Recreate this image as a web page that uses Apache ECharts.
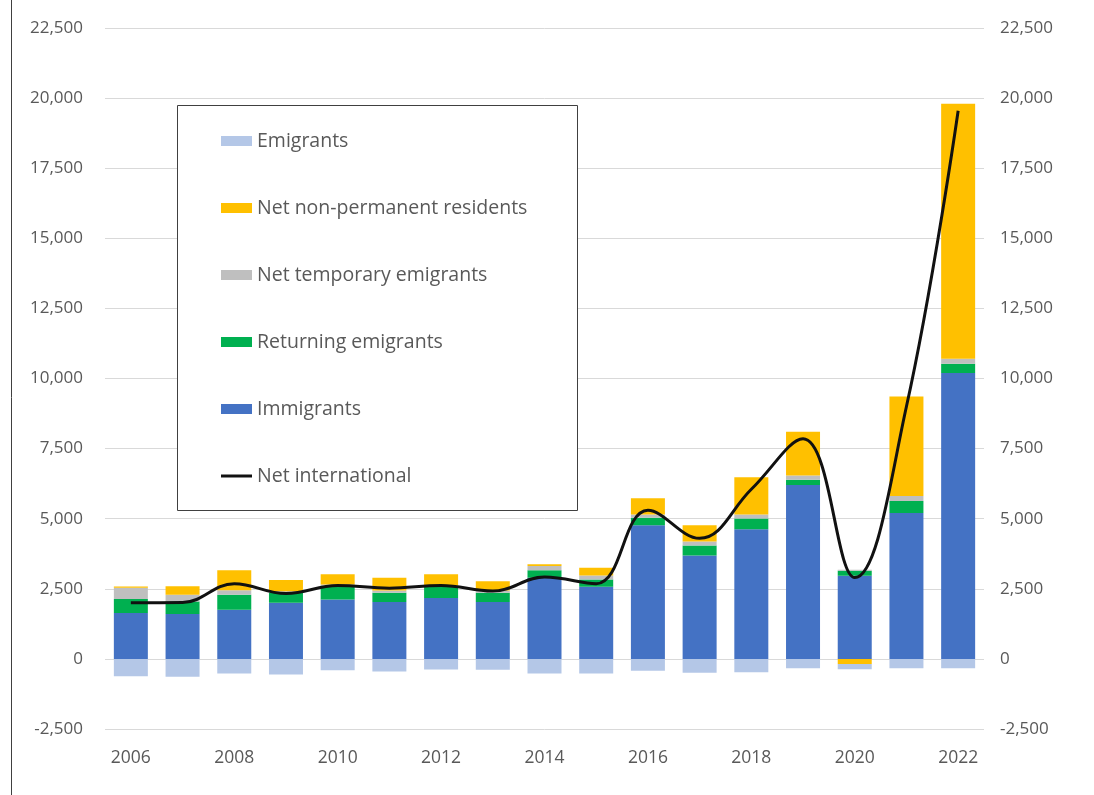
<!DOCTYPE html>
<html>
<head>
<meta charset="utf-8">
<script src="https://cdn.jsdelivr.net/npm/echarts@6/dist/echarts.min.js"></script>
<style>
  html, body { margin: 0; padding: 0; background: #ffffff; }
  #chart { width: 1094px; height: 795px; }
</style>
</head>
<body>
<div id="chart"></div>
<script>
// Components of net international migration, by year
const years = ['2006','2007','2008','2009','2010','2011','2012','2013','2014','2015','2016','2017','2018','2019','2020','2021','2022'];
const immigrants        = [1635, 1600, 1750, 2000, 2115, 2025, 2175, 2025, 2895, 2570, 4765, 3685, 4620, 6205, 2965, 5200, 10200];
const returningEmigrants = [500, 450, 540, 350, 490, 330, 385, 330, 265, 265, 265, 360, 385, 180, 180, 430, 330];
const netTemporary      = [400, 240, 160, 60, 50, 80, 60, 80, 150, 140, 120, 145, 145, 155, 30, 180, 170];
const netNonPermanent   = [50, 300, 710, 400, 360, 460, 400, 330, 65, 280, 575, 575, 1330, 1560, -180, 3550, 9100];
const emigrants         = [-620, -640, -525, -560, -405, -445, -380, -390, -525, -525, -420, -490, -480, -335, -190, -330, -330];
const netInternational  = [2000, 2010, 2680, 2330, 2620, 2520, 2620, 2420, 2920, 2680, 5300, 4300, 6050, 7850, 2900, 9000, 19550];

const FONT = '"Open Sans", "Liberation Sans", sans-serif';
const TEXT = '#595959';

const chart = echarts.init(document.getElementById('chart'), null, { renderer: 'canvas' });

const fmt = v => v.toLocaleString('en-US');

function barSeries(name, data, color) {
  return {
    name, type: 'bar', stack: 'total', data,
    barWidth: 34,
    itemStyle: { color },
    emphasis: { disabled: true },
    yAxisIndex: 0
  };
}

const yCommon = {
  type: 'value', min: -2500, max: 22500, interval: 2500,
  axisLine: { show: false }, axisTick: { show: false }
};

chart.setOption({
  animation: false,
  backgroundColor: '#ffffff',
  grid: { left: 105, right: 110, top: 28, bottom: 66 },
  xAxis: {
    type: 'category', data: years,
    position: 'bottom',
    axisLine: { show: false, onZero: false },
    axisTick: { show: false },
    axisLabel: { interval: 1, color: TEXT, fontFamily: FONT, fontSize: 17.5, margin: 20 }
  },
  yAxis: [
    Object.assign({}, yCommon, {
      position: 'left',
      splitLine: { lineStyle: { color: '#d9d9d9', width: 1 } },
      axisLabel: { color: TEXT, fontFamily: FONT, fontSize: 17, margin: 22, formatter: fmt }
    }),
    Object.assign({}, yCommon, {
      position: 'right',
      splitLine: { show: false },
      axisLabel: { color: TEXT, fontFamily: FONT, fontSize: 17, margin: 16, formatter: fmt }
    })
  ],
  legend: {
    orient: 'vertical', left: 216, top: 126, z: 10,
    itemWidth: 31, itemHeight: 10, itemGap: 47,
    symbolKeepAspect: true,
    textStyle: { color: TEXT, fontFamily: FONT, fontSize: 19.5, lineHeight: 20 },
    data: [
      { name: 'Emigrants', icon: 'rect' },
      { name: 'Net non-permanent residents', icon: 'rect' },
      { name: 'Net temporary emigrants', icon: 'rect' },
      { name: 'Returning emigrants', icon: 'rect' },
      { name: 'Immigrants', icon: 'rect' },
      { name: 'Net international', icon: 'path://M0,0L31,0L31,3L0,3Z' }
    ]
  },
  graphic: [
    { type: 'rect', z: 5, shape: { x: 177.5, y: 105.5, width: 400, height: 405 },
      style: { fill: '#ffffff', stroke: '#404040', lineWidth: 1 } },
    { type: 'line', z: 5, shape: { x1: 11.5, y1: 0, x2: 11.5, y2: 795 },
      style: { stroke: '#404040', lineWidth: 1 } }
  ],
  series: [
    barSeries('Immigrants', immigrants, '#4472c4'),
    barSeries('Returning emigrants', returningEmigrants, '#00b050'),
    barSeries('Net temporary emigrants', netTemporary, '#bfbfbf'),
    barSeries('Net non-permanent residents', netNonPermanent, '#ffc000'),
    barSeries('Emigrants', emigrants, '#b4c7e7'),
    {
      name: 'Net international', type: 'line', data: netInternational,
      yAxisIndex: 1, smooth: 0.4, symbol: 'none', z: 4,
      lineStyle: { color: '#111111', width: 3 },
      itemStyle: { color: '#111111' },
      emphasis: { disabled: true }
    }
  ]
});
</script>
</body>
</html>
